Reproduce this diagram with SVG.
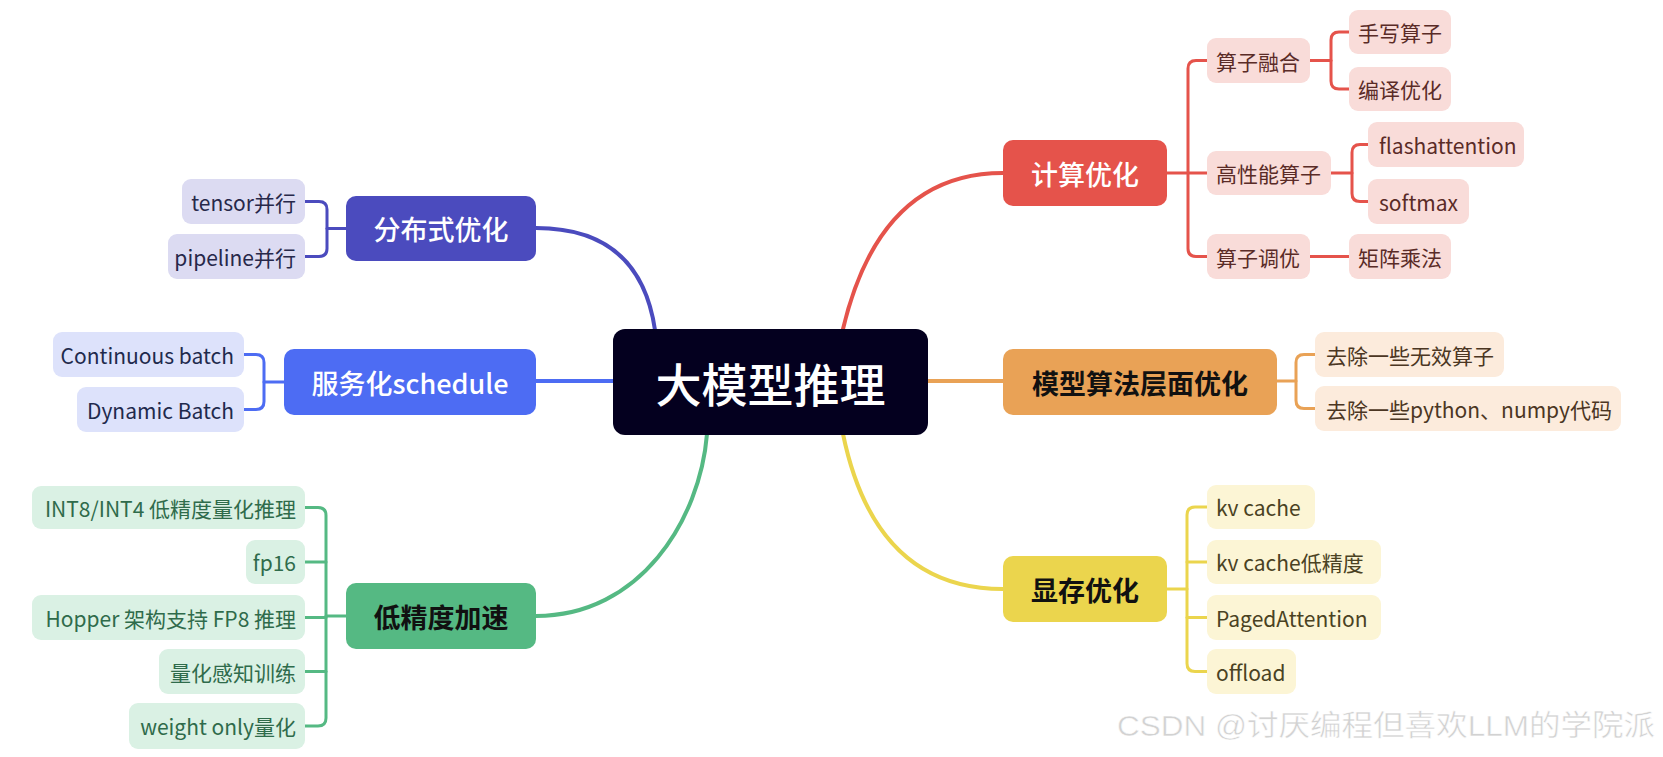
<svg xmlns="http://www.w3.org/2000/svg" width="1663" height="757" viewBox="0 0 1663 757">
<style>
text{font-family:"Noto Sans CJK SC","Noto Sans",sans-serif;dominant-baseline:central}
.c{font-size:21px}
.m{font-size:27px;text-anchor:middle}
.w{fill:#ffffff;font-weight:500}
.k{fill:#111111;font-weight:700}
.l{text-anchor:end}
.r{text-anchor:start}
.ln{fill:none;stroke-width:3;stroke-linecap:round;stroke-linejoin:round}
.mc{fill:none;stroke-width:4;stroke-linecap:round}
.pu{fill:#dcdbf2}.put{fill:#27284a}
.bl{fill:#dde2fb}.blt{fill:#1f2a4d}
.gr{fill:#daf1e4}.grt{fill:#2f6b4b}
.rd{fill:#f9dcd9}.rdt{fill:#5a2b27}
.or{fill:#fcebdc}.ort{fill:#4b3623}
.ye{fill:#fcf5d5}.yet{fill:#4a4223}
</style>
<rect width="1663" height="757" fill="#ffffff"/>
<g id="connectors">
<path class="mc" stroke="#4b4bbe" d="M536,228 Q640,228 655,330"/>
<path class="mc" stroke="#4d6cf3" d="M536,381 H613"/>
<path class="mc" stroke="#55b983" d="M707,434 C700,520 640,616 536,616"/>
<path class="mc" stroke="#e5534b" d="M843,329 Q880,173 1003,173"/>
<path class="mc" stroke="#e9a256" d="M928,381 H1003"/>
<path class="mc" stroke="#ebd54d" d="M843,434 Q875,589 1003,589"/>
<g stroke="#4b4bbe" class="ln"><path d="M346,228.5 H327"/><path d="M305,201.5 H319 Q327,201.5 327,209.5 V248.5 Q327,256.5 319,256.5 H305"/></g>
<g stroke="#4d6cf3" class="ln"><path d="M284,382 H264"/><path d="M244,354.5 H256 Q264,354.5 264,362.5 V401.5 Q264,409.5 256,409.5 H244"/></g>
<g stroke="#55b983" class="ln"><path d="M346,616 H326"/><path d="M305,507.5 H318 Q326,507.5 326,515.5 V718 Q326,726 318,726 H305"/><path d="M305,562 H326"/><path d="M305,617.5 H326"/><path d="M305,671.5 H326"/></g>
<g stroke="#e5534b" class="ln"><path d="M1167,173 H1207"/><path d="M1207,60.5 H1196 Q1188,60.5 1188,68.5 V248.5 Q1188,256.5 1196,256.5 H1207"/><path d="M1310,60.5 H1331"/><path d="M1349,32 H1339 Q1331,32 1331,40 V81 Q1331,89 1339,89 H1349"/><path d="M1331,173 H1352"/><path d="M1368,144.5 H1360 Q1352,144.5 1352,152.5 V193.5 Q1352,201.5 1360,201.5 H1368"/><path d="M1310,256.5 H1349"/></g>
<g stroke="#e9a256" class="ln"><path d="M1277,381 H1296"/><path d="M1315,354.5 H1304 Q1296,354.5 1296,362.5 V400.5 Q1296,408.5 1304,408.5 H1315"/></g>
<g stroke="#ebd54d" class="ln"><path d="M1167,589 H1187"/><path d="M1207,507 H1195 Q1187,507 1187,515 V663.5 Q1187,671.5 1195,671.5 H1207"/><path d="M1187,562 H1207"/><path d="M1187,617.5 H1207"/></g>
</g>
<g id="root"><rect x="613" y="329" width="315" height="106" rx="12" fill="#04001f"/><text x="770.5" y="382" font-size="46" fill="#ffffff" text-anchor="middle" font-weight="500">大模型推理</text></g>
<g id="fenbushi"><rect x="346" y="196" width="190" height="65" rx="10" fill="#4b4bbe"/><text class="m w" x="441" y="228.5">分布式优化</text></g>
<g id="tensor"><rect class="pu" x="182" y="179" width="123" height="45" rx="9"/><text class="c l put" x="296" y="201.5">tensor并行</text></g>
<g id="pipeline"><rect class="pu" x="168" y="234" width="137" height="45" rx="9"/><text class="c l put" x="296" y="256.5">pipeline并行</text></g>
<g id="fuwuhua"><rect x="284" y="349" width="252" height="66" rx="10" fill="#4d6cf3"/><text class="m w" x="410" y="382">服务化schedule</text></g>
<g id="continuous"><rect class="bl" x="53" y="332" width="191" height="45" rx="9"/><text class="c l blt" x="234" y="354.5">Continuous batch</text></g>
<g id="dynamic"><rect class="bl" x="77" y="387" width="167" height="45" rx="9"/><text class="c l blt" x="234" y="409.5">Dynamic Batch</text></g>
<g id="dijingdu"><rect x="346" y="583" width="190" height="66" rx="10" fill="#55b983"/><text class="m k" x="441" y="616">低精度加速</text></g>
<g id="int8"><rect class="gr" x="32" y="486" width="273" height="43" rx="9"/><text class="c l grt" x="296" y="507.5">INT8/INT4 低精度量化推理</text></g>
<g id="fp16"><rect class="gr" x="246" y="540" width="59" height="44" rx="9"/><text class="c l grt" x="296" y="562">fp16</text></g>
<g id="hopper"><rect class="gr" x="32" y="595" width="273" height="45" rx="9"/><text class="c l grt" x="296" y="617.5">Hopper 架构支持 FP8 推理</text></g>
<g id="qat"><rect class="gr" x="159" y="649" width="146" height="45" rx="9"/><text class="c l grt" x="296" y="671.5">量化感知训练</text></g>
<g id="weightonly"><rect class="gr" x="129" y="703" width="176" height="46" rx="9"/><text class="c l grt" x="296" y="726">weight only量化</text></g>
<g id="jisuan"><rect x="1003" y="140" width="164" height="66" rx="10" fill="#e5534b"/><text class="m w" x="1085" y="173">计算优化</text></g>
<g id="ronghe"><rect class="rd" x="1207" y="38" width="103" height="45" rx="9"/><text class="c r rdt" x="1216" y="60.5">算子融合</text></g>
<g id="shouxie"><rect class="rd" x="1349" y="10" width="102" height="44" rx="9"/><text class="c r rdt" x="1358" y="32">手写算子</text></g>
<g id="bianyi"><rect class="rd" x="1349" y="67" width="102" height="44" rx="9"/><text class="c r rdt" x="1358" y="89">编译优化</text></g>
<g id="gaoxingneng"><rect class="rd" x="1207" y="151" width="124" height="44" rx="9"/><text class="c r rdt" x="1216" y="173">高性能算子</text></g>
<g id="flash"><rect class="rd" x="1368" y="122" width="156" height="45" rx="9"/><text class="c r rdt" x="1379" y="144.5">flashattention</text></g>
<g id="softmax"><rect class="rd" x="1368" y="179" width="101" height="45" rx="9"/><text class="c r rdt" x="1379" y="201.5">softmax</text></g>
<g id="tiaoyou"><rect class="rd" x="1207" y="234" width="103" height="45" rx="9"/><text class="c r rdt" x="1216" y="256.5">算子调优</text></g>
<g id="juzhen"><rect class="rd" x="1349" y="234" width="102" height="45" rx="9"/><text class="c r rdt" x="1358" y="256.5">矩阵乘法</text></g>
<g id="moxing"><rect x="1003" y="349" width="274" height="66" rx="10" fill="#e9a256"/><text class="m k" x="1140" y="382">模型算法层面优化</text></g>
<g id="wuxiao"><rect class="or" x="1315" y="332" width="189" height="45" rx="9"/><text class="c r ort" x="1326" y="354.5">去除一些无效算子</text></g>
<g id="python"><rect class="or" x="1315" y="386" width="306" height="45" rx="9"/><text class="c r ort" x="1326" y="408.5">去除一些python、numpy代码</text></g>
<g id="xiancun"><rect x="1003" y="556" width="164" height="66" rx="10" fill="#ebd54d"/><text class="m k" x="1085" y="589">显存优化</text></g>
<g id="kvcache"><rect class="ye" x="1207" y="485" width="108" height="44" rx="9"/><text class="c r yet" x="1216" y="507">kv cache</text></g>
<g id="kvlow"><rect class="ye" x="1207" y="540" width="174" height="44" rx="9"/><text class="c r yet" x="1216" y="562">kv cache低精度</text></g>
<g id="paged"><rect class="ye" x="1207" y="595" width="174" height="45" rx="9"/><text class="c r yet" x="1216" y="617.5">PagedAttention</text></g>
<g id="offload"><rect class="ye" x="1207" y="649" width="89" height="45" rx="9"/><text class="c r yet" x="1216" y="671.5">offload</text></g>
<text x="1117" y="726" font-size="29" fill="#d2d2d2" stroke="#ffffff" stroke-width="0.5" style="font-family:'Liberation Sans','Noto Sans CJK SC',sans-serif" textLength="538" lengthAdjust="spacingAndGlyphs">CSDN @讨厌编程但喜欢LLM的学院派</text>
</svg>
